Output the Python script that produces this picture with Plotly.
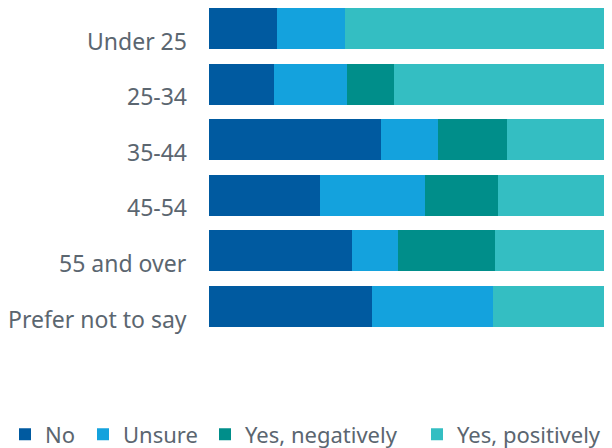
import plotly.graph_objects as go

categories = ["Under 25", "25-34", "35-44", "45-54", "55 and over", "Prefer not to say"]
series_names = ["No", "Unsure", "Yes, negatively", "Yes, positively"]
no_vals = [16.9, 16.1, 42.7, 27.5, 35.5, 40.4]
unsure_vals = [16.9, 18.1, 14.1, 26.1, 11.4, 30.0]
neg_vals = [0.0, 11.7, 17.1, 18.1, 24.1, 0.0]
pos_vals = [66.2, 54.1, 26.1, 28.3, 29.0, 29.6]
colors = ["#005AA0", "#14A2DD", "#008E8A", "#34BEC2"]

TEXT_COLOR = "#5B6670"
PLOT_L = 201
PLOT_W = 612 - 8 - PLOT_L
PLOT_H = 326
# left edge (px, figure coords) of each legend entry
legend_left_px = [-3, 75, 197, 409]
legend_ids = ["legend", "legend2", "legend3", "legend4"]

fig = go.Figure()
for name, vals, col, lid in zip(series_names, [no_vals, unsure_vals, neg_vals, pos_vals],
                                colors, legend_ids):
    fig.add_trace(go.Bar(
        y=categories, x=vals, name=name, orientation="h", legend=lid,
        marker=dict(color=col, line=dict(width=0)),
    ))

# category labels sit a little below the bar centres in the reference
for cat in categories:
    fig.add_annotation(
        text=cat, x=0, xref="paper", y=cat, yref="y",
        xanchor="right", yanchor="middle", xshift=-20, yshift=-12,
        showarrow=False, font=dict(family="Noto Sans", size=23, color=TEXT_COLOR),
    )

legend_layouts = {}
for lid, lx in zip(legend_ids, legend_left_px):
    legend_layouts[lid] = dict(
        orientation="h", x=(lx - PLOT_L) / PLOT_W, xanchor="left", xref="paper",
        y=(PLOT_H - 426.5) / PLOT_H, yanchor="middle", yref="paper",
        font=dict(size=22, color=TEXT_COLOR), bgcolor="rgba(0,0,0,0)",
        itemwidth=30, tracegroupgap=0,
    )

# The page body has an 8px margin, so the layout is shifted up/left by 8px.
fig.update_layout(
    barmode="stack",
    width=612, height=448,
    margin=dict(l=PLOT_L, r=8, t=0, b=448 - PLOT_H, autoexpand=False),
    bargap=0.263,
    paper_bgcolor="white", plot_bgcolor="white",
    font=dict(family="Noto Sans", size=22, color=TEXT_COLOR),
    xaxis=dict(range=[0, 100], visible=False, showgrid=False, zeroline=False),
    yaxis=dict(range=[5.4946, -0.3687], showgrid=False, ticks="", ticklen=0,
               showticklabels=False),
    showlegend=True,
    **legend_layouts,
)

fig.write_html("out.html")
